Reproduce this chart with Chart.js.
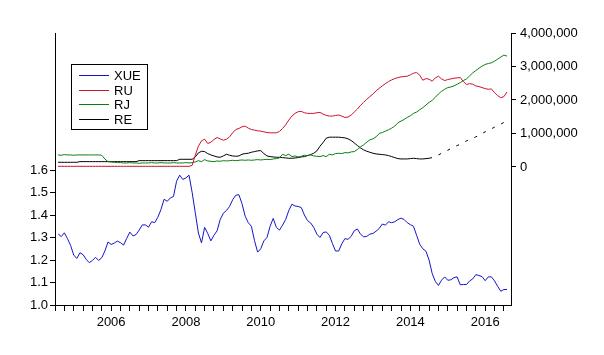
<!DOCTYPE html>
<html><head><meta charset="utf-8">
<script src="https://cdn.jsdelivr.net/npm/chart.js@4"></script>
<style>html,body{margin:0;padding:0;background:#fff}canvas{display:block}</style>
</head><body>
<canvas id="c" width="604" height="355"></canvas>
<script>
// ---- data (monthly, starting 2005-02) ----
const seriesNames = ['XUE', 'RU', 'RJ', 'RE'];
const startYear = 2005, startMonth = 2;

const xue = [
  1.316,1.304,1.321,1.295,1.265,1.222,1.207,1.232,1.224,1.203,
  1.188,1.198,1.212,1.198,1.210,1.240,1.280,1.269,1.275,1.284,
  1.277,1.266,1.296,1.324,1.307,1.313,1.333,1.356,1.356,1.346,
  1.370,1.366,1.390,1.425,1.470,1.461,1.476,1.482,1.550,1.577,
  1.558,1.565,1.577,1.500,1.410,1.320,1.276,1.345,1.318,1.285,
  1.310,1.330,1.380,1.408,1.420,1.438,1.468,1.488,1.490,1.450,
  1.395,1.366,1.350,1.286,1.235,1.250,1.285,1.300,1.350,1.385,
  1.345,1.333,1.355,1.380,1.420,1.448,1.440,1.438,1.433,1.400,
  1.375,1.365,1.345,1.315,1.300,1.322,1.325,1.310,1.273,1.240,
  1.240,1.272,1.295,1.292,1.305,1.330,1.338,1.315,1.303,1.305,
  1.315,1.318,1.328,1.340,1.360,1.355,1.370,1.366,1.370,1.380,
  1.386,1.380,1.366,1.357,1.350,1.310,1.270,1.250,1.239,1.200,
  1.140,1.105,1.087,1.110,1.125,1.110,1.112,1.122,1.125,1.090,
  1.091,1.091,1.107,1.116,1.135,1.131,1.126,1.108,1.125,1.125,
  1.107,1.083,1.061,1.069,1.069
];

const ruMillions = [
  0.02,0.02,0.02,0.02,0.02,0.02,0.02,0.02,0.02,0.02,
  0.02,0.02,0.02,0.02,0.02,0.02,0.02,0.02,0.02,0.02,
  0.02,0.02,0.02,0.02,0.02,0.02,0.02,0.02,0.02,0.02,
  0.02,0.02,0.02,0.02,0.02,0.02,0.02,0.02,0.02,0.02,
  0.02,0.02,0.02,0.05,0.35,0.62,0.78,0.83,0.70,0.74,
  0.82,0.88,0.84,0.80,0.83,0.90,1.02,1.12,1.15,1.20,
  1.22,1.16,1.12,1.10,1.08,1.07,1.05,1.03,1.02,1.02,
  1.02,1.06,1.15,1.26,1.40,1.52,1.60,1.65,1.66,1.62,
  1.60,1.60,1.60,1.62,1.63,1.58,1.54,1.52,1.52,1.54,
  1.55,1.52,1.48,1.49,1.55,1.64,1.73,1.84,1.93,2.02,
  2.10,2.18,2.27,2.35,2.42,2.49,2.55,2.60,2.64,2.67,
  2.69,2.70,2.71,2.75,2.80,2.82,2.74,2.59,2.64,2.62,
  2.56,2.66,2.71,2.63,2.58,2.61,2.63,2.65,2.66,2.67,
  2.55,2.46,2.49,2.47,2.42,2.40,2.37,2.34,2.32,2.33,
  2.22,2.13,2.07,2.10,2.24
];

const rjMillions = [
  0.36,0.35,0.37,0.36,0.36,0.35,0.36,0.36,0.36,0.36,
  0.36,0.36,0.36,0.36,0.35,0.24,0.16,0.15,0.14,0.13,
  0.13,0.12,0.12,0.13,0.12,0.12,0.11,0.12,0.12,0.12,
  0.13,0.12,0.12,0.13,0.12,0.12,0.12,0.13,0.12,0.12,
  0.12,0.13,0.12,0.13,0.15,0.19,0.16,0.22,0.18,0.17,
  0.16,0.18,0.17,0.19,0.18,0.19,0.20,0.19,0.20,0.21,
  0.20,0.21,0.20,0.21,0.22,0.21,0.22,0.23,0.22,0.24,
  0.25,0.27,0.38,0.34,0.38,0.31,0.33,0.30,0.32,0.35,
  0.34,0.36,0.33,0.32,0.31,0.34,0.31,0.38,0.36,0.40,
  0.41,0.40,0.43,0.42,0.45,0.46,0.52,0.60,0.66,0.74,
  0.81,0.84,0.90,1.00,1.03,1.07,1.11,1.16,1.22,1.32,
  1.37,1.42,1.48,1.53,1.60,1.64,1.71,1.77,1.85,1.93,
  1.99,2.08,2.18,2.26,2.32,2.37,2.39,2.42,2.47,2.52,
  2.58,2.63,2.72,2.81,2.88,2.95,3.01,3.06,3.09,3.11,
  3.16,3.22,3.28,3.34,3.31
];

const reMillions = [
  0.14,0.14,0.14,0.14,0.14,0.14,0.14,0.16,0.16,0.16,
  0.16,0.16,0.16,0.16,0.16,0.16,0.16,0.16,0.16,0.16,
  0.16,0.16,0.16,0.16,0.16,0.16,0.19,0.19,0.19,0.19,
  0.19,0.19,0.19,0.19,0.19,0.19,0.19,0.19,0.19,0.23,
  0.23,0.23,0.23,0.23,0.30,0.42,0.47,0.46,0.40,0.36,
  0.33,0.30,0.29,0.33,0.38,0.35,0.33,0.32,0.33,0.38,
  0.40,0.41,0.44,0.46,0.48,0.49,0.40,0.33,0.31,0.30,
  0.29,0.29,0.28,0.27,0.26,0.26,0.27,0.28,0.30,0.31,
  0.34,0.37,0.41,0.48,0.62,0.73,0.86,0.89,0.89,0.89,
  0.89,0.88,0.87,0.84,0.79,0.72,0.64,0.57,0.51,0.47,
  0.44,0.41,0.39,0.38,0.37,0.36,0.34,0.31,0.28,0.25,
  0.24,0.24,0.24,0.25,0.26,0.25,0.24,0.24,0.25,0.26,
  0.28,0.31,0.36,0.41,0.45,0.50,0.55,0.60,0.64,0.68,
  0.73,0.78,0.82,0.86,0.90,0.94,1.00,1.05,1.09,1.14,
  1.19,1.23,1.28,1.33,1.36
];
const reDashFromIndex = 119;   // RE drawn dashed after this observation

const leftTicks = [1.0, 1.1, 1.2, 1.3, 1.4, 1.5, 1.6];
const rightTicksMillions = [0, 1, 2, 3, 4];
const yearLabels = [2006, 2008, 2010, 2012, 2014, 2016];
const firstTickYear = 2005, lastTickYear = 2017;
const seriesColors = ['#1414c8', '#d0102c', '#0a7d12', '#000000'];

// ---- build ----
const monthLabels = xue.map((_, i) => {
  const m = startMonth - 1 + i;
  return (startYear + Math.floor(m / 12)) + '-' + String(m % 12 + 1).padStart(2, '0');
});
const xOf = lbl => { const [y, m] = lbl.split('-').map(Number); return y + (m - 1) / 12; };
const pts = arr => arr.map((v, i) => ({ x: xOf(monthLabels[i]), y: v }));

const quarterTicks = [];
for (let y = firstTickYear; y <= lastTickYear; y++) for (let q = 0; q < 4; q++) {
  const v = y + q / 4; if (v <= lastTickYear) quarterTicks.push(v);
}

const FONT = { family: '"Liberation Sans", Arial, sans-serif', size: 13 };
const fmtInt = v => Math.round(v * 1e6).toString().replace(/\B(?=(\d{3})+(?!\d))/g, ',');

const legendBox = {
  id: 'legendBox',
  afterDraw(chart) {
    const ctx = chart.ctx;
    ctx.save();
    ctx.setLineDash([]);
    ctx.lineWidth = 1;
    ctx.strokeStyle = '#000';
    ctx.strokeRect(71.5, 64.5, 76, 65);
    ctx.font = '13px "Liberation Sans", Arial, sans-serif';
    ctx.textBaseline = 'middle';
    chart.data.datasets.forEach((ds, i) => {
      const y = 75 + Math.round(i * 14.5);
      ctx.fillStyle = seriesColors[i];
      ctx.fillRect(79, y, 30, 1);
      ctx.fillStyle = '#000';
      ctx.fillText(ds.label, 114, y + 1);
    });
    ctx.restore();
  }
};

const common = { borderWidth: 1, pointRadius: 0, tension: 0, fill: false };

new Chart(document.getElementById('c'), {
  type: 'line',
  data: {
    datasets: [
      { ...common, label: seriesNames[0], data: pts(xue), borderColor: seriesColors[0], yAxisID: 'yL' },
      { ...common, label: seriesNames[1], data: pts(ruMillions), borderColor: seriesColors[1], yAxisID: 'yR' },
      { ...common, label: seriesNames[2], data: pts(rjMillions), borderColor: seriesColors[2], yAxisID: 'yR' },
      { ...common, label: seriesNames[3], data: pts(reMillions), borderColor: seriesColors[3], yAxisID: 'yR',
        segment: { borderDash: c => c.p0DataIndex >= reDashFromIndex ? [3, 7] : undefined } }
    ]
  },
  options: {
    responsive: false, animation: false,
    layout: { padding: { top: 33, left: 0, right: 0, bottom: 0 } },
    plugins: { legend: { display: false }, tooltip: { enabled: false } },
    scales: {
      x: {
        type: 'linear', position: 'bottom', min: 2005.0, max: 2017.19,
        afterBuildTicks: s => { s.ticks = quarterTicks.map(v => ({ value: v })); },
        afterFit: s => { s.height = 50; },
        ticks: {
          autoSkip: false, maxRotation: 0, minRotation: 0, color: '#000', font: FONT, padding: 4,
          callback: v => (yearLabels.includes(Math.round((v - 0.5) * 100) / 100) && Math.abs(v % 1 - 0.5) < 1e-6) ? String(v - 0.5) : ''
        },
        grid: { drawOnChartArea: false, drawTicks: true, tickLength: 6, tickColor: '#000' },
        border: { display: true, color: '#000', width: 1 }
      },
      yL: {
        type: 'linear', position: 'left', min: 1.0, max: 2.209,
        afterBuildTicks: s => { s.ticks = leftTicks.map(v => ({ value: v })); },
        afterFit: s => { s.width = 55; },
        ticks: { color: '#000', font: FONT, padding: 2, callback: v => v.toFixed(1) },
        grid: { drawOnChartArea: false, drawTicks: true, tickLength: 5, tickColor: '#000' },
        border: { display: true, color: '#000', width: 1 }
      },
      yR: {
        type: 'linear', position: 'right', min: -4.12, max: 4.0,
        afterBuildTicks: s => { s.ticks = rightTicksMillions.map(v => ({ value: v })); },
        afterFit: s => { s.width = 93; },
        ticks: { color: '#000', font: FONT, padding: 4, callback: v => fmtInt(v) },
        grid: { drawOnChartArea: false, drawTicks: true, tickLength: 5, tickColor: '#000' },
        border: { display: true, color: '#000', width: 1 }
      }
    }
  },
  plugins: [legendBox]
});
</script>
</body></html>
